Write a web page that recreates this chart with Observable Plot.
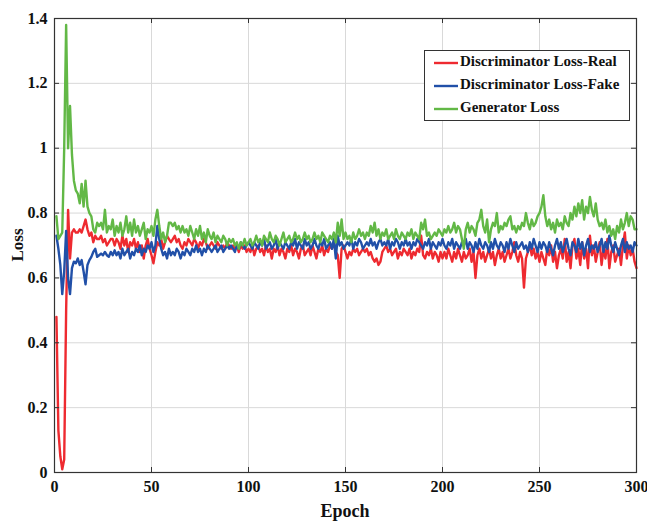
<!DOCTYPE html>
<html>
<head>
<meta charset="utf-8">
<script src="https://cdn.jsdelivr.net/npm/d3@7"></script>
<script src="https://cdn.jsdelivr.net/npm/@observablehq/plot@0.6"></script>
<style>
  html, body { margin: 0; padding: 0; background: #fff; }
  #chart svg { display: block; }
</style>
</head>
<body>
<div id="chart"></div>
<script>
const seriesNames = ["Discriminator Loss-Real", "Discriminator Loss-Fake", "Generator Loss"];
const seriesColors = ["#ee2a30", "#2150a8", "#62b846"];
const xTicks = [0, 50, 100, 150, 200, 250, 300];
const yTicks = [0, 0.2, 0.4, 0.6, 0.8, 1, 1.2, 1.4];

const lossReal = [
0.48,0.13,0.05,0.01,0.04,0.50,0.81,0.66,0.74,0.75,
0.74,0.74,0.75,0.74,0.76,0.78,0.75,0.73,0.74,0.71,
0.73,0.72,0.72,0.73,0.71,0.72,0.70,0.71,0.72,0.72,
0.70,0.72,0.71,0.69,0.73,0.70,0.72,0.68,0.71,0.70,
0.72,0.69,0.71,0.68,0.70,0.66,0.70,0.72,0.69,0.67,
0.645,0.68,0.71,0.70,0.72,0.69,0.71,0.73,0.72,0.71,
0.72,0.73,0.71,0.72,0.70,0.69,0.71,0.70,0.72,0.71,
0.70,0.72,0.71,0.69,0.71,0.70,0.72,0.71,0.69,0.70,
0.71,0.70,0.69,0.71,0.70,0.69,0.70,0.69,0.71,0.70,
0.69,0.70,0.69,0.70,0.68,0.70,0.69,0.70,0.68,0.69,
0.68,0.70,0.67,0.69,0.70,0.68,0.69,0.67,0.70,0.68,
0.69,0.66,0.69,0.68,0.70,0.67,0.69,0.68,0.66,0.69,
0.68,0.70,0.67,0.69,0.68,0.66,0.69,0.70,0.67,0.68,
0.69,0.67,0.70,0.68,0.66,0.69,0.68,0.70,0.67,0.69,
0.68,0.70,0.69,0.71,0.68,0.67,0.60,0.69,0.70,0.68,
0.66,0.68,0.67,0.69,0.68,0.69,0.67,0.68,0.69,0.68,
0.69,0.67,0.68,0.66,0.65,0.66,0.64,0.65,0.68,0.69,
0.70,0.68,0.69,0.67,0.68,0.69,0.66,0.68,0.67,0.69,
0.68,0.67,0.69,0.66,0.68,0.67,0.69,0.68,0.73,0.67,
0.66,0.68,0.67,0.69,0.66,0.68,0.67,0.65,0.68,0.66,
0.68,0.66,0.69,0.67,0.65,0.68,0.66,0.69,0.67,0.65,
0.68,0.66,0.67,0.69,0.65,0.68,0.60,0.67,0.69,0.66,
0.68,0.65,0.67,0.69,0.66,0.68,0.64,0.67,0.69,0.66,
0.68,0.65,0.67,0.69,0.66,0.68,0.71,0.67,0.65,0.68,
0.66,0.57,0.66,0.68,0.70,0.67,0.69,0.66,0.68,0.65,
0.68,0.66,0.64,0.69,0.67,0.70,0.65,0.68,0.63,0.67,
0.69,0.66,0.72,0.65,0.68,0.63,0.70,0.72,0.66,0.69,
0.64,0.71,0.66,0.69,0.63,0.73,0.67,0.70,0.65,0.68,
0.71,0.64,0.69,0.66,0.72,0.63,0.68,0.70,0.65,0.67,
0.69,0.64,0.70,0.74,0.66,0.70,0.67,0.69,0.65,0.63
];

const lossFake = [
0.73,0.69,0.64,0.55,0.62,0.745,0.60,0.55,0.63,0.65,
0.645,0.66,0.64,0.655,0.62,0.58,0.64,0.655,0.665,0.68,
0.69,0.665,0.67,0.675,0.67,0.68,0.67,0.665,0.68,0.67,
0.685,0.67,0.68,0.66,0.69,0.67,0.68,0.69,0.66,0.68,
0.67,0.69,0.68,0.70,0.67,0.69,0.68,0.70,0.69,0.71,
0.68,0.70,0.76,0.72,0.69,0.67,0.68,0.66,0.69,0.67,
0.68,0.67,0.69,0.68,0.66,0.68,0.67,0.69,0.68,0.67,
0.69,0.68,0.70,0.68,0.69,0.67,0.69,0.68,0.70,0.69,
0.68,0.69,0.70,0.68,0.69,0.70,0.68,0.69,0.70,0.69,
0.70,0.69,0.68,0.70,0.69,0.71,0.70,0.69,0.70,0.71,
0.70,0.69,0.71,0.70,0.69,0.71,0.70,0.72,0.69,0.70,
0.71,0.69,0.70,0.72,0.69,0.71,0.70,0.69,0.71,0.70,
0.69,0.71,0.70,0.72,0.69,0.71,0.70,0.69,0.72,0.70,
0.71,0.69,0.70,0.72,0.70,0.69,0.71,0.70,0.72,0.69,
0.70,0.71,0.69,0.72,0.66,0.73,0.70,0.71,0.69,0.70,
0.71,0.70,0.72,0.69,0.71,0.70,0.72,0.71,0.69,0.70,
0.71,0.70,0.72,0.70,0.71,0.69,0.71,0.72,0.70,0.71,
0.70,0.72,0.69,0.71,0.70,0.72,0.71,0.69,0.71,0.70,
0.72,0.70,0.71,0.69,0.71,0.70,0.72,0.71,0.70,0.69,
0.71,0.70,0.72,0.69,0.71,0.70,0.69,0.71,0.70,0.72,
0.70,0.69,0.71,0.70,0.72,0.69,0.71,0.70,0.69,0.71,
0.70,0.72,0.69,0.71,0.70,0.68,0.71,0.69,0.72,0.70,
0.69,0.71,0.70,0.68,0.71,0.69,0.72,0.70,0.69,0.71,
0.70,0.68,0.71,0.69,0.72,0.70,0.68,0.71,0.69,0.70,
0.71,0.69,0.70,0.68,0.71,0.69,0.72,0.70,0.68,0.71,
0.69,0.71,0.70,0.68,0.71,0.69,0.67,0.70,0.72,0.69,
0.71,0.68,0.70,0.72,0.69,0.67,0.71,0.70,0.68,0.72,
0.69,0.71,0.67,0.70,0.72,0.68,0.70,0.69,0.71,0.68,
0.70,0.72,0.68,0.71,0.69,0.73,0.70,0.68,0.71,0.69,
0.67,0.70,0.72,0.68,0.71,0.69,0.70,0.68,0.71,0.70
];

const lossGen = [
0.79,0.72,0.73,0.74,1.00,1.38,1.00,1.13,0.98,0.90,
0.87,0.86,0.83,0.89,0.82,0.90,0.82,0.80,0.79,0.75,
0.74,0.77,0.76,0.77,0.75,0.81,0.74,0.76,0.75,0.78,
0.73,0.76,0.74,0.77,0.73,0.75,0.79,0.74,0.77,0.73,
0.78,0.74,0.76,0.73,0.75,0.77,0.72,0.75,0.74,0.76,
0.73,0.78,0.81,0.76,0.72,0.74,0.71,0.73,0.77,0.77,
0.76,0.77,0.75,0.76,0.74,0.76,0.74,0.75,0.73,0.76,
0.74,0.72,0.75,0.73,0.76,0.72,0.74,0.71,0.75,0.73,
0.72,0.74,0.71,0.73,0.72,0.71,0.73,0.72,0.70,0.72,
0.71,0.72,0.70,0.71,0.69,0.71,0.70,0.72,0.70,0.71,
0.72,0.70,0.71,0.73,0.71,0.72,0.70,0.73,0.72,0.71,
0.74,0.72,0.71,0.73,0.72,0.70,0.72,0.74,0.71,0.72,
0.73,0.71,0.72,0.74,0.72,0.73,0.71,0.72,0.74,0.72,
0.73,0.71,0.72,0.74,0.72,0.73,0.71,0.74,0.73,0.72,
0.71,0.73,0.72,0.74,0.71,0.77,0.73,0.78,0.72,0.74,
0.72,0.73,0.71,0.74,0.72,0.73,0.75,0.73,0.74,0.72,
0.74,0.73,0.76,0.74,0.77,0.73,0.75,0.72,0.74,0.73,
0.75,0.72,0.73,0.74,0.72,0.75,0.73,0.72,0.74,0.73,
0.72,0.74,0.73,0.75,0.72,0.74,0.73,0.72,0.77,0.75,
0.78,0.73,0.74,0.72,0.73,0.74,0.73,0.75,0.74,0.73,
0.75,0.74,0.76,0.74,0.75,0.77,0.74,0.76,0.75,0.72,
0.69,0.75,0.77,0.74,0.76,0.75,0.73,0.77,0.78,0.81,
0.76,0.74,0.78,0.71,0.75,0.77,0.76,0.80,0.74,0.76,
0.75,0.77,0.76,0.78,0.79,0.75,0.76,0.74,0.76,0.75,
0.77,0.76,0.80,0.77,0.75,0.78,0.76,0.77,0.79,0.80,
0.82,0.855,0.79,0.76,0.78,0.75,0.77,0.74,0.78,0.76,
0.77,0.75,0.79,0.77,0.76,0.80,0.78,0.82,0.79,0.83,
0.80,0.84,0.78,0.82,0.80,0.85,0.81,0.79,0.83,0.78,
0.76,0.77,0.75,0.78,0.74,0.76,0.73,0.75,0.72,0.76,
0.74,0.78,0.75,0.77,0.80,0.76,0.79,0.78,0.75,0.75
];

const allSeries = [lossReal, lossFake, lossGen];
const data = allSeries.flatMap((arr, s) => arr.map((v, i) => ({epoch: i + 1, loss: v, series: seriesNames[s]})));

const W = 647, H = 522;
const mL = 54, mR = 11, mT = 18, mB = 50;
const font = "'Liberation Serif', 'Times New Roman', serif";

const tickLenX = 5 * 300 / (W - mL - mR);
const tickLenY = 5 * 1.4 / (H - mT - mB);

const chart = Plot.plot({
  width: W,
  height: H,
  marginLeft: mL,
  marginRight: mR,
  marginTop: mT,
  marginBottom: mB,
  style: {fontFamily: font, fontSize: "16px", fontWeight: "bold", color: "#111", background: "#fff"},
  x: {domain: [0, 300], ticks: xTicks},
  y: {domain: [0, 1.4], ticks: yTicks},
  color: {domain: seriesNames, range: seriesColors},
  marks: [
    Plot.gridX(xTicks, {stroke: "#d9d9d9", strokeOpacity: 1, strokeWidth: 1}),
    Plot.gridY(yTicks, {stroke: "#d9d9d9", strokeOpacity: 1, strokeWidth: 1}),
    Plot.axisX(xTicks, {tickSize: 0, tickPadding: 8, label: null, fontSize: 16, fontWeight: "bold"}),
    Plot.axisY(yTicks, {tickSize: 0, tickPadding: 7, label: null, fontSize: 16, fontWeight: "bold",
      tickFormat: d => String(+d.toFixed(1))}),
    Plot.line(data, {x: "epoch", y: "loss", z: "series", stroke: "series", strokeWidth: 2.4, strokeLinejoin: "round"}),
    // inward tick marks (MATLAB style)
    Plot.ruleX(xTicks, {y1: 0, y2: tickLenY, stroke: "#333", strokeWidth: 1}),
    Plot.ruleX(xTicks, {y1: 1.4, y2: 1.4 - tickLenY, stroke: "#333", strokeWidth: 1}),
    Plot.ruleY(yTicks, {x1: 0, x2: tickLenX, stroke: "#333", strokeWidth: 1}),
    Plot.ruleY(yTicks, {x1: 300, x2: 300 - tickLenX, stroke: "#333", strokeWidth: 1}),
    Plot.frame({stroke: "#333", strokeWidth: 1.2})
  ]
});

const svg = d3.select(chart);
// axis titles
svg.append("text")
  .attr("x", mL + (W - mL - mR) / 2).attr("y", 513)
  .attr("text-anchor", "middle").attr("dominant-baseline", "middle")
  .style("font-family", font).style("font-size", "18px").style("font-weight", "bold")
  .attr("fill", "#111").text("Epoch");
svg.append("text")
  .attr("transform", `translate(19, ${mT + (H - mT - mB) / 2}) rotate(-90)`)
  .attr("text-anchor", "middle").attr("dominant-baseline", "middle")
  .style("font-family", font).style("font-size", "17px").style("font-weight", "bold")
  .attr("fill", "#111").text("Loss");

// legend
const lg = svg.append("g");
lg.append("rect").attr("x", 424.5).attr("y", 50.5).attr("width", 205).attr("height", 70)
  .attr("fill", "#fff").attr("stroke", "#333").attr("stroke-width", 1);
seriesNames.forEach((name, i) => {
  const yy = 63 + i * 23;
  lg.append("line").attr("x1", 434).attr("x2", 458).attr("y1", yy).attr("y2", yy)
    .attr("stroke", seriesColors[i]).attr("stroke-width", 2.4);
  lg.append("text").attr("x", 460).attr("y", yy).attr("dominant-baseline", "middle")
    .attr("text-anchor", "start").style("text-anchor", "start")
    .style("font-family", font).style("font-size", "15px").style("font-weight", "bold")
    .attr("fill", "#111").text(name);
});

document.getElementById("chart").appendChild(chart);
</script>
</body>
</html>
